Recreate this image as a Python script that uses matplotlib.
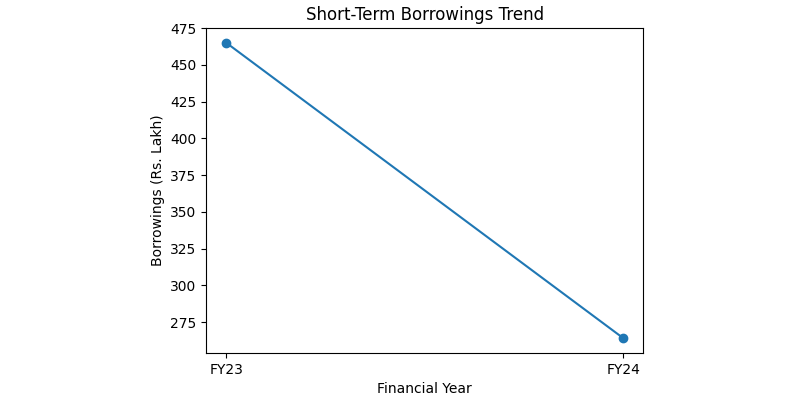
import matplotlib.pyplot as plt

years = ["FY23", "FY24"]
borrowings = [465, 264]

fig = plt.figure(figsize=(8, 4), dpi=100)
ax = fig.add_axes([0.258, 0.1175, 0.546, 0.8125])
ax.plot(years, borrowings, marker="o")
ax.set_title("Short-Term Borrowings Trend")
ax.set_xlabel("Financial Year")
ax.set_ylabel("Borrowings (Rs. Lakh)")
fig.savefig("out.png")
